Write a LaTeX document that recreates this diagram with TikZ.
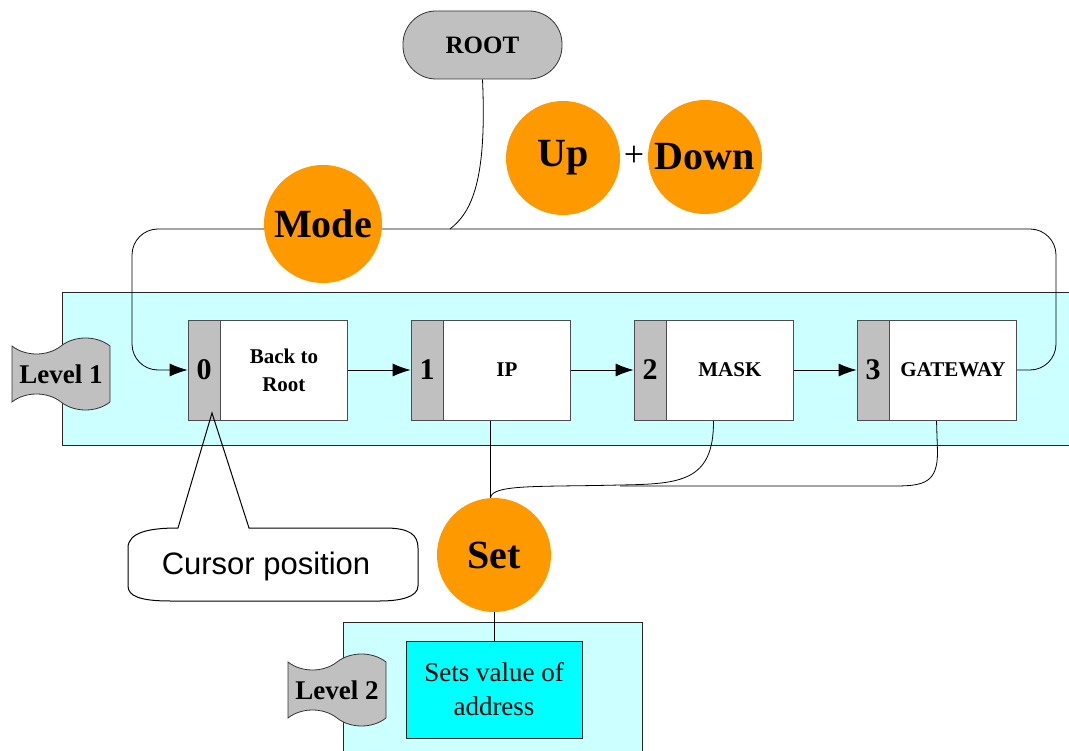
\documentclass[tikz,border=0pt]{standalone}
\usepackage{fontspec}
\setmainfont{Liberation Serif}
\newfontfamily\arialfont{Liberation Sans}
\usepackage{tikz}
\usetikzlibrary{shapes.geometric, shapes.symbols, arrows.meta, positioning, calc, backgrounds}
\definecolor{keyorange}{HTML}{FF9900}
\definecolor{cellgray}{HTML}{C0C0C0}
\definecolor{bandcyan}{HTML}{CCFFFF}
\definecolor{addrcyan}{HTML}{00FFFF}
\tikzset{
  band/.style={fill=bandcyan, draw=black!85, line width=0.8pt},
  cell/.style={draw=black!70, fill=white, line width=0.8pt, minimum width=159pt, minimum height=100pt, inner sep=0pt},
  numcell/.style={draw=black!70, fill=cellgray, line width=0.8pt, minimum width=32pt, minimum height=100pt, inner sep=0pt, font=\fontsize{30}{30}\selectfont\bfseries},
  celltext/.style={align=center, inner sep=0pt, font=\fontsize{21}{28}\selectfont\bfseries},
  keyball/.style={circle, fill=keyorange, minimum size=114pt, inner sep=0pt, font=\fontsize{40}{40}\selectfont\bfseries},
  levelflag/.style={tape, draw=black!80, fill=cellgray, line width=0.8pt, tape bend top=in and out, tape bend bottom=out and in, tape bend height=16pt, minimum width=98pt, minimum height=72pt, inner sep=0pt, font=\fontsize{27}{27}\selectfont\bfseries},
  flow/.style={-{Latex[length=18pt,width=13pt]}, line width=0.8pt},
  link/.style={line width=0.8pt}
}

\begin{document}
\begin{tikzpicture}[x=1pt, y=-1pt]
  \useasboundingbox (0,0) rectangle (1069,751);

  % Root node and keys
  \node[draw=black!80, fill=cellgray, line width=0.8pt, rounded corners=33pt, minimum width=159pt, minimum height=68pt, font=\fontsize{25}{25}\selectfont\bfseries] (root) at (482.5,45) {ROOT};
  \node[keyball] (up) at (563,158) {Up};
  \node[font=\fontsize{36}{36}\selectfont] (plus) at (634,156) {+};
  \node[keyball] (down) at (705,157) {Down};
  \node[keyball, minimum size=118pt] (mode) at (323,224) {Mode};

  % Level 1 menu items
  \foreach \i/\lab in {0/{Back to\\Root}, 1/IP, 2/MASK, 3/GATEWAY} {
    \node[cell] (b\i) at ({267.5+223*\i},370) {};
    \node[numcell, anchor=west] (n\i) at (b\i.west) {\i};
    \node[celltext] (t\i) at ($(n\i.east)!0.5!(b\i.east)$) {\lab};
  }
  \node[levelflag] (lvlone) at (61,374) {Level 1};

  % Set key and level 2
  \node[keyball] (set) at (494,555) {Set};
  \node[draw=black!85, fill=addrcyan, line width=0.8pt, minimum width=176pt, minimum height=97pt, align=center, font=\fontsize{27}{34}\selectfont] (addr) at (494,689.5) {Sets value of\\address};
  \node[levelflag] (lvltwo) at (337,690) {Level 2};

  % Cursor callout
  \draw[line width=1pt] (128,548) .. controls (128,532) and (150,528) .. (178,528) -- (212,413) -- (249,528) -- (385,528)
    .. controls (410,528) and (418,535) .. (418,548) -- (418,586) .. controls (418,597) and (400,601) .. (380,601)
    -- (170,601) .. controls (140,601) and (128,596) .. (128,586) -- cycle;
  \node[font=\arialfont\fontsize{31}{31}\selectfont] (cursortext) at (266,566) {Cursor position};

  \coordinate (rootjoin) at (450,229);
  \coordinate (settop) at (b1.south |- set.north);
  \coordinate (gwjoin) at (620,486);

  \begin{scope}[on background layer]
    % Bands
    \fill[band] (62,292) rectangle (1090,445);
    \fill[band] (343,622) rectangle (642,770);

    % Mode loop
    \draw[flow, rounded corners=26pt] (b3.east) -- (1056,370) -- (1056,229) -- (132,229) -- (132,370) -- (n0.west);
    \draw[link] (root.south) .. controls (487,180) and (472,212) .. (rootjoin);

    % Next item
    \foreach \i/\j in {0/1, 1/2, 2/3}
      \draw[flow] (b\i.east) -- (n\j.west);

    % Set links
    \draw[link] (b1.south) -- (settop);
    \draw[link] (b2.south) .. controls (714,482) and (680,484) .. (620,485) .. controls (540,487) and (492,484) .. (settop);
    \draw[link] (b3.south) -- (937.5,452) .. controls (937.5,482) and (925,486) .. (895,486) -- (gwjoin);
    \draw[link] (set.south) -- (addr.north);
  \end{scope}
\end{tikzpicture}
\end{document}
